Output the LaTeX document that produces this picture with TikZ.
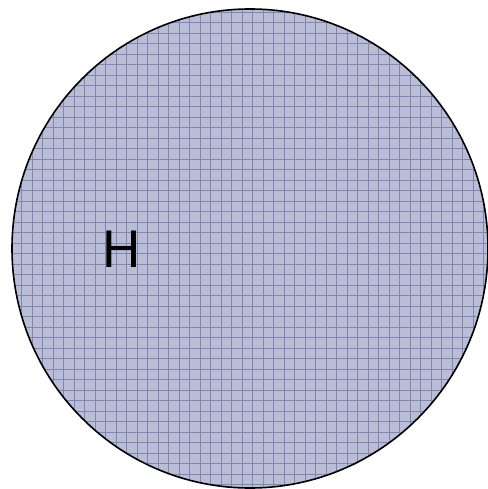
\documentclass[tikz,border=0pt]{standalone}
\usepackage{fontspec}
\setmainfont{Liberation Sans}
\usetikzlibrary{shapes.geometric}
\definecolor{fillc}{RGB}{186,190,212}
\definecolor{gridc}{RGB}{128,133,184}
\tikzset{disk/.style={draw=black,line width=1.6pt}}
\begin{document}
\begin{tikzpicture}[x=1pt,y=-1pt]
\useasboundingbox (0,0) rectangle (487,489);
\fill[white] (0,0) rectangle (487,489);
\begin{scope}
\clip (250,248.5) ellipse [x radius=238, y radius=239.5];
\fill[fillc] (0,0) rectangle (490,490);
\foreach \i in {0,...,47} {
  \draw[gridc,line width=0.7pt] ({0.6+10.5*\i},0) -- ({0.6+10.5*\i},489);
  \draw[gridc,line width=0.7pt] (0,{1.5+10.5*\i}) -- (487,{1.5+10.5*\i});
}
\end{scope}
\node[disk,ellipse,minimum width=476pt,minimum height=479pt,inner sep=0pt] (c) at (250,248.5) {};
\node[font=\fontsize{53}{60}\selectfont,inner sep=0pt] (h) at (122,249) {H};
\end{tikzpicture}
\end{document}
